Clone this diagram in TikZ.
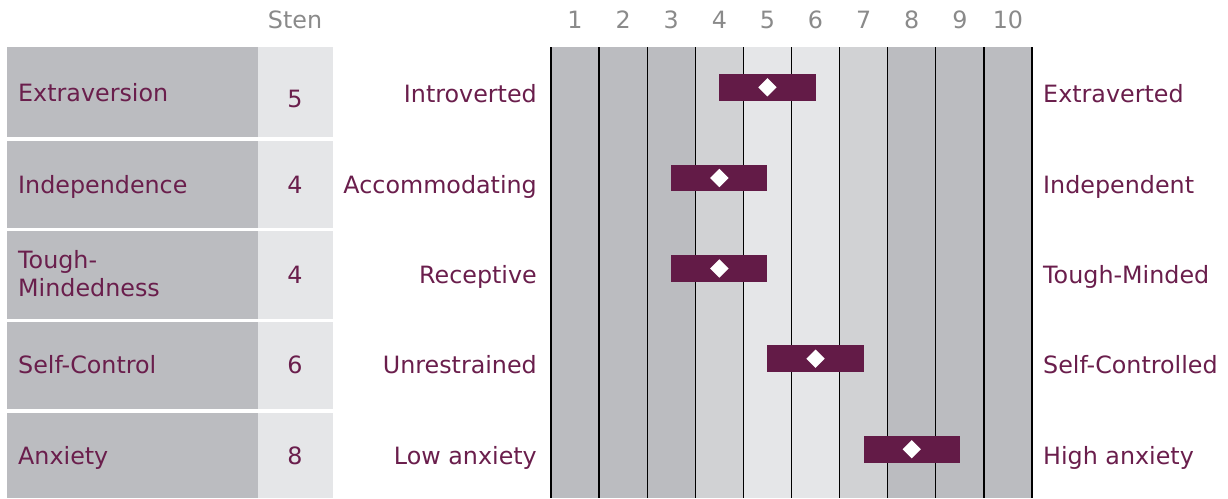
\documentclass[tikz,border=0pt]{standalone}
\usepackage{fontspec}
\setmainfont{DejaVu Sans}
\usetikzlibrary{shapes.geometric}
\definecolor{darkg}{HTML}{BBBCC0}
\definecolor{midg}{HTML}{D1D2D4}
\definecolor{lightg}{HTML}{E5E6E8}
\definecolor{txtred}{HTML}{6A1E4C}
\definecolor{barred}{HTML}{631B47}
\definecolor{hdrgray}{HTML}{8A8A8A}
\tikzset{
  lbl/.style={inner sep=0pt, text=txtred, font=\fontsize{23.8}{29}\selectfont},
  hdr/.style={inner sep=0pt, text=hdrgray, font=\fontsize{23.8}{29}\selectfont, anchor=base},
  gridline/.style={line width=1.3pt, black},
  scorebar/.style={fill=barred},
  mark diamond/.style={diamond, fill=white, draw=none, inner sep=0pt, minimum width=18.5pt, minimum height=18.5pt, aspect=1}
}
\begin{document}
\begin{tikzpicture}[x=1pt,y=-1pt]
\useasboundingbox (0,0) rectangle (1228,498);
% left panels
\foreach \t/\b in {47/137, 141/228, 231/318.5, 322/409.3, 413/498}{
  \fill[darkg] (7,\t) rectangle (258,\b);
  \fill[lightg] (258,\t) rectangle (333,\b);
}
% header
\node[hdr] (sten) at (295,28.3) {Sten};
\foreach \k in {1,...,10}{
  \node[hdr] (h\k) at ({551+48.1*(\k-0.5)},28.3) {\k};
}
% chart columns
\foreach \k/\c in {1/darkg,2/darkg,3/darkg,4/midg,5/lightg,6/lightg,7/midg,8/darkg,9/darkg,10/darkg}{
  \fill[\c] ({551+48.1*(\k-1)},47) rectangle ({551+48.1*\k},498);
}
\foreach \k in {0,...,10}{
  \draw[gridline] ({551+48.1*\k},47) -- ({551+48.1*\k},498);
}
% trait names
\node[lbl, anchor=base west] (n1) at (18,101.7) {Extraversion};
\node[lbl, anchor=base west] (n2) at (18,193.2) {Independence};
\node[lbl, anchor=base west] (n3a) at (18,268.3) {Tough-};
\node[lbl, anchor=base west] (n3b) at (18,296.7) {Mindedness};
\node[lbl, anchor=base west] (n4) at (18,373.7) {Self-Control};
\node[lbl, anchor=base west] (n5) at (18,464.7) {Anxiety};
% sten scores
\node[lbl, anchor=base] (s1) at (295,107.2) {5};
\node[lbl, anchor=base] (s2) at (295,193.2) {4};
\node[lbl, anchor=base] (s3) at (295,283.5) {4};
\node[lbl, anchor=base] (s4) at (295,373.7) {6};
\node[lbl, anchor=base] (s5) at (295,464.7) {8};
% left poles
\node[lbl, anchor=base east] (l1) at (537,102.5) {Introverted};
\node[lbl, anchor=base east] (l2) at (537,193.2) {Accommodating};
\node[lbl, anchor=base east] (l3) at (537,283.5) {Receptive};
\node[lbl, anchor=base east] (l4) at (537,373.7) {Unrestrained};
\node[lbl, anchor=base east] (l5) at (537,464.7) {Low anxiety};
% right poles
\node[lbl, anchor=base west] (r1) at (1043,102.5) {Extraverted};
\node[lbl, anchor=base west] (r2) at (1043,193.2) {Independent};
\node[lbl, anchor=base west] (r3) at (1043,283.5) {Tough-Minded};
\node[lbl, anchor=base west] (r4) at (1043,373.7) {Self-Controlled};
\node[lbl, anchor=base west] (r5) at (1043,464.7) {High anxiety};
% score bars
\foreach \i/\v/\c in {1/5/87.3, 2/4/178, 3/4/268.5, 4/6/358.7, 5/8/449.3}{
  \fill[scorebar] ({551+48.1*(\v-1.5)},{\c-13.3}) rectangle ({551+48.1*(\v+0.5)},{\c+13.3});
  \node[mark diamond] (d\i) at ({551+48.1*(\v-0.5)},\c) {};
}
\end{tikzpicture}
\end{document}
